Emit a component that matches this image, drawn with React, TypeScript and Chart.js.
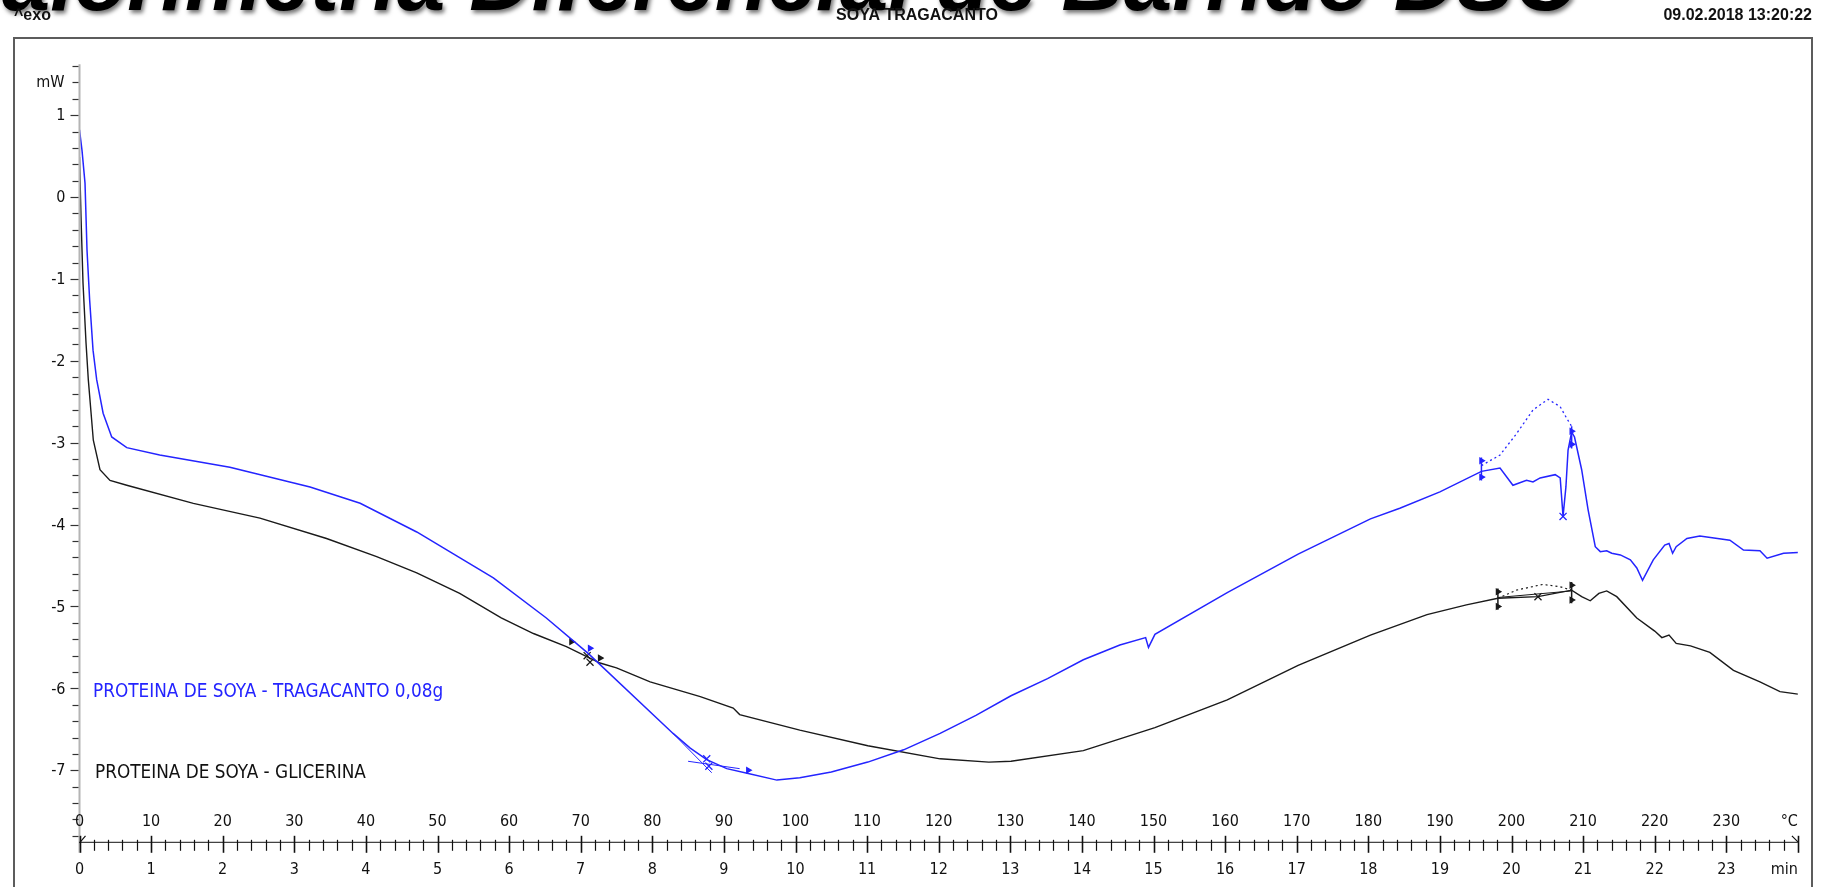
import React, { useEffect, useRef } from "react";
import { Chart, registerables } from "chart.js";

Chart.register(...registerables);

const W = 1828;
const H = 887;

// DSC heat flow (mW) against sample temperature (°C); 10 °C/min, so minutes = °C / 10
const tempTragacanto = [
  0, 0.35, 0.77, 1.05, 1.42, 1.89, 2.4, 3.3, 4.5, 6.6, 11.2, 21.0, 32.2, 39.2, 47.1, 57.8, 65.2,
  71.0, 82.9, 85.3, 87.6, 90.4, 93.4, 97.4, 100.6, 105.0, 110.1, 115.1, 120.2, 125.2, 130.1, 135.2,
  140.2, 145.3, 148.9, 149.3, 150.2, 160.3, 170.2, 180.3, 184.4, 190.0, 195.8, 198.4, 200.2, 202.1,
  203.0, 204.0, 206.1, 206.8, 207.2, 207.6, 207.9, 208.4, 208.8, 209.8, 210.7, 211.7, 212.4, 213.3,
  214.0, 215.2, 216.6, 217.5, 218.3, 219.8, 221.4, 222.0, 222.5, 223.0, 224.5, 226.3, 230.5, 232.4,
  234.7, 235.7, 238.0, 240.0,
];
const mwTragacanto = [
  0.82, 0.57, 0.17, -0.65, -1.26, -1.87, -2.23, -2.64, -2.93, -3.06, -3.15, -3.30, -3.54, -3.74, -4.09,
  -4.65, -5.14, -5.57, -6.55, -6.73, -6.87, -6.98, -7.04, -7.12, -7.09, -7.02, -6.90, -6.75, -6.55,
  -6.33, -6.09, -5.88, -5.65, -5.47, -5.38, -5.50, -5.34, -4.83, -4.36, -3.93, -3.80, -3.60, -3.35,
  -3.31, -3.52, -3.46, -3.48, -3.43, -3.39, -3.43, -3.90, -3.54, -3.09, -2.87, -2.93, -3.33, -3.82,
  -4.27, -4.33, -4.32, -4.35, -4.37, -4.43, -4.53, -4.68, -4.43, -4.25, -4.23, -4.35, -4.27, -4.17,
  -4.14, -4.19, -4.31, -4.32, -4.41, -4.35, -4.34,
];

const tempGlicerina = [
  0, 0.21, 0.49, 0.91, 1.23, 1.93, 2.86, 4.26, 6.6, 15.9, 25.2, 34.5, 41.5, 47.1, 53.1, 58.9, 63.4,
  68.0, 72.7, 75.0, 79.7, 86.7, 91.3, 92.2, 100.6, 110.1, 120.2, 127.0, 130.1, 140.2, 150.2, 160.3,
  170.2, 180.3, 188.2, 193.7, 198.1, 203.7, 208.4, 209.8, 211.0, 212.2, 213.3, 214.7, 217.5, 220.0,
  221.0, 222.0, 223.0, 225.0, 227.7, 231.0, 234.7, 237.5, 240.0,
];
const mwGlicerina = [
  0.49, -0.24, -1.05, -1.78, -2.23, -2.97, -3.33, -3.46, -3.52, -3.74, -3.92, -4.17, -4.39, -4.59,
  -4.84, -5.14, -5.33, -5.49, -5.69, -5.75, -5.92, -6.10, -6.24, -6.32, -6.51, -6.70, -6.86, -6.90,
  -6.89, -6.76, -6.48, -6.14, -5.72, -5.35, -5.10, -4.98, -4.90, -4.88, -4.80, -4.88, -4.93, -4.84,
  -4.81, -4.88, -5.14, -5.30, -5.38, -5.35, -5.45, -5.48, -5.56, -5.78, -5.92, -6.04, -6.07,
];

// interpolated peak baselines (dotted) and evaluation lines
const tempBaseTragacanto = [195.8, 198.4, 200.7, 203.0, 205.1, 206.8, 207.7, 208.4];
const mwBaseTragacanto = [-3.28, -3.15, -2.89, -2.60, -2.47, -2.56, -2.70, -2.80];
const tempBaseGlicerina = [198.1, 200.7, 204.4, 206.8, 208.4];
const mwBaseGlicerina = [-4.90, -4.80, -4.73, -4.76, -4.80];
const tempLineGlicerina = [198.1, 208.4];
const mwLineGlicerina = [-4.89, -4.81];
const tempTangentSteep = [82.9, 88.3];
const mwTangentSteep = [-6.55, -7.03];
const tempTangentFlat = [85.0, 92.2];
const mwTangentFlat = [-6.89, -6.98];

// evaluation limit flags and onset crosses
const tempFlagsTragacanto = [71.3, 93.4, 195.8, 195.8, 208.4, 208.4];
const mwFlagsTragacanto = [-5.51, -7.0, -3.22, -3.42, -2.86, -3.02];
const tempCrossTragacanto = [87.6, 87.9, 207.2];
const mwCrossTragacanto = [-6.86, -6.95, -3.9];
const tempFlagsGlicerina = [68.7, 72.7, 198.1, 198.1, 208.4, 208.4];
const mwFlagsGlicerina = [-5.43, -5.63, -4.82, -5.0, -4.74, -4.92];
const tempCrossGlicerina = [70.9, 71.3, 203.7];
const mwCrossGlicerina = [-5.6, -5.68, -4.88];
const bracketTragacanto = [
  [195.8, -3.18, -3.46],
  [208.4, -2.80, -3.07],
];
const bracketGlicerina = [
  [198.1, -4.78, -5.04],
  [208.4, -4.70, -4.96],
];

// axis labels
const tempTickLabels = ["0", "10", "20", "30", "40", "50", "60", "70", "80", "90", "100", "110", "120", "130", "140", "150", "160", "170", "180", "190", "200", "210", "220", "230"];
const minuteTickLabels = ["0", "1", "2", "3", "4", "5", "6", "7", "8", "9", "10", "11", "12", "13", "14", "15", "16", "17", "18", "19", "20", "21", "22", "23"];
const mwTickValues = [1, 0, -1, -2, -3, -4, -5, -6, -7];

const TITLE = "Calorimetría Diferencial de Barrido DSC";
const SAMPLE = "SOYA TRAGACANTO";
const STAMP = "09.02.2018 13:20:22";
const LABEL_TRAG = "PROTEINA DE SOYA - TRAGACANTO 0,08g";
const LABEL_GLIC = "PROTEINA DE SOYA - GLICERINA";

const BLUE = "#2424ff";
const BLACK = "#1a1a1a";
const TICK_FONT = "16px 'DejaVu Sans Condensed', 'DejaVu Sans', sans-serif";
const NAME_FONT = "18.8px 'DejaVu Sans Condensed', 'DejaVu Sans', sans-serif";

const pts = (xs: number[], ys: number[]) => xs.map((x, i) => ({ x, y: ys[i] }));

const overlay = {
  id: "dscOverlay",
  afterDraw(chart: any) {
    const ctx: CanvasRenderingContext2D = chart.ctx;
    const xs = chart.scales.x;
    const ys = chart.scales.y;
    const area = chart.chartArea;
    const x0 = xs.getPixelForValue(0);
    const x1 = xs.getPixelForValue(240);
    const axisY = area.bottom + 6;

    ctx.save();

    // outer frame
    ctx.strokeStyle = "#5c5c5c";
    ctx.lineWidth = 2;
    ctx.strokeRect(14, 38, 1798, 1000);

    // y axis
    ctx.strokeStyle = "#b4b4b4";
    ctx.lineWidth = 2;
    ctx.beginPath();
    ctx.moveTo(x0, ys.getPixelForValue(1.62));
    ctx.lineTo(x0, axisY + 11);
    ctx.stroke();
    ctx.strokeStyle = "#333";
    ctx.lineWidth = 1.2;
    for (let k = 0; k <= 47; k++) {
      const v = 1.6 - k * 0.2;
      const y = Math.round(ys.getPixelForValue(v)) + 0.5;
      const major = Math.abs(v - Math.round(v)) < 1e-6;
      ctx.beginPath();
      ctx.moveTo(x0 - (major ? 9 : 7), y);
      ctx.lineTo(x0 - 1, y);
      ctx.stroke();
    }
    ctx.fillStyle = "#111";
    ctx.font = TICK_FONT;
    ctx.textAlign = "right";
    ctx.textBaseline = "middle";
    mwTickValues.forEach((v) => ctx.fillText(String(v), x0 - 14, ys.getPixelForValue(v) + 1));
    ctx.fillText("mW", x0 - 15, ys.getPixelForValue(1.4));

    // x axis
    ctx.strokeStyle = "#111";
    ctx.lineWidth = 1;
    ctx.beginPath();
    ctx.moveTo(x0, axisY + 0.5);
    ctx.lineTo(x1, axisY + 0.5);
    ctx.stroke();
    for (let k = 0; k <= 120; k++) {
      const t = k * 2;
      const x = Math.round(xs.getPixelForValue(t)) + 0.5;
      const major = k % 5 === 0;
      ctx.lineWidth = major ? 1.6 : 1.2;
      ctx.beginPath();
      ctx.moveTo(x, axisY - (major ? 6 : 2));
      ctx.lineTo(x, axisY + (major ? 11 : 9));
      ctx.stroke();
    }
    // break marks at both ends of the time axis
    ctx.lineWidth = 1.2;
    ctx.beginPath();
    ctx.moveTo(x0, axisY + 1);
    ctx.lineTo(x0 + 6, axisY - 6);
    ctx.moveTo(x1 - 6, axisY - 6);
    ctx.lineTo(x1, axisY);
    ctx.stroke();

    ctx.font = TICK_FONT;
    ctx.textAlign = "center";
    ctx.textBaseline = "middle";
    tempTickLabels.forEach((s) => ctx.fillText(s, xs.getPixelForValue(Number(s)), axisY - 20));
    minuteTickLabels.forEach((s) => ctx.fillText(s, xs.getPixelForValue(Number(s) * 10), axisY + 28));
    ctx.textAlign = "right";
    ctx.fillText("°C", x1, axisY - 20);
    ctx.fillText("min", x1, axisY + 28);

    // curve names
    ctx.font = NAME_FONT;
    ctx.textAlign = "left";
    ctx.fillStyle = BLUE;
    ctx.fillText(LABEL_TRAG, 93, ys.getPixelForValue(-6.04));
    ctx.fillStyle = "#111";
    ctx.fillText(LABEL_GLIC, 95, ys.getPixelForValue(-7.04));

    // large heading with soft shadow
    ctx.save();
    ctx.font = "italic bold 100px 'Liberation Sans', Arial, sans-serif";
    const wAll = ctx.measureText(TITLE).width;
    const wC = ctx.measureText("C").width;
    const size = (100 * 1575) / (wAll - wC);
    ctx.font = `italic bold ${size}px 'Liberation Sans', Arial, sans-serif`;
    ctx.textAlign = "left";
    ctx.textBaseline = "alphabetic";
    ctx.shadowColor = "rgba(0,0,0,0.55)";
    ctx.shadowBlur = 4;
    ctx.shadowOffsetX = 2;
    ctx.shadowOffsetY = 3;
    ctx.fillStyle = "#000";
    ctx.fillText(TITLE, -(wC * size) / 100 + 2, 10);
    ctx.restore();

    // header line on top of the heading
    ctx.fillStyle = "#111";
    ctx.font = "bold 16px 'Liberation Sans', Arial, sans-serif";
    ctx.textBaseline = "alphabetic";
    ctx.textAlign = "left";
    ctx.fillText("^exo", 14, 20);
    ctx.textAlign = "center";
    ctx.fillText(SAMPLE, 917, 20);
    ctx.textAlign = "right";
    ctx.fillText(STAMP, 1812, 20);

    ctx.restore();
  },
};

const lineDs = (label: string, xs: number[], ys: number[], color: string, width: number, dash: number[] = []) => ({
  label,
  data: pts(xs, ys),
  showLine: true,
  borderColor: color,
  borderWidth: width,
  borderDash: dash,
  pointRadius: 0,
  tension: 0,
  fill: false,
});

const markerDs = (label: string, xs: number[], ys: number[], color: string, style: string, radius: number, rotation = 0) => ({
  label,
  data: pts(xs, ys),
  showLine: false,
  pointStyle: style,
  pointRadius: radius,
  pointRotation: rotation,
  pointBackgroundColor: color,
  pointBorderColor: color,
  pointBorderWidth: 1.3,
});

export default function App() {
  const ref = useRef<HTMLCanvasElement | null>(null);

  useEffect(() => {
    if (!ref.current) return;
    const brackets = [
      ...bracketTragacanto.map((b, i) => lineDs(`bt${i}`, [b[0], b[0]], [b[1], b[2]], BLUE, 1.5)),
      ...bracketGlicerina.map((b, i) => lineDs(`bg${i}`, [b[0], b[0]], [b[1], b[2]], BLACK, 1.5)),
    ];
    const chart = new Chart(ref.current, {
      type: "scatter",
      data: {
        datasets: [
          lineDs("PROTEINA DE SOYA - TRAGACANTO 0,08g", tempTragacanto, mwTragacanto, BLUE, 1.5),
          lineDs("PROTEINA DE SOYA - GLICERINA", tempGlicerina, mwGlicerina, BLACK, 1.4),
          lineDs("base-t", tempBaseTragacanto, mwBaseTragacanto, BLUE, 1.3, [2, 3]),
          lineDs("base-g", tempBaseGlicerina, mwBaseGlicerina, BLACK, 1.2, [2, 3]),
          lineDs("line-g", tempLineGlicerina, mwLineGlicerina, BLACK, 1),
          lineDs("tan-1", tempTangentSteep, mwTangentSteep, BLUE, 1),
          lineDs("tan-2", tempTangentFlat, mwTangentFlat, BLUE, 1),
          ...brackets,
          markerDs("flags-t", tempFlagsTragacanto, mwFlagsTragacanto, BLUE, "triangle", 3, 90),
          markerDs("cross-t", tempCrossTragacanto, mwCrossTragacanto, BLUE, "crossRot", 5),
          markerDs("flags-g", tempFlagsGlicerina, mwFlagsGlicerina, BLACK, "triangle", 3, 90),
          markerDs("cross-g", tempCrossGlicerina, mwCrossGlicerina, BLACK, "crossRot", 5),
        ] as any,
      },
      options: {
        animation: false,
        responsive: false,
        devicePixelRatio: 1,
        layout: { padding: { left: 79.5, right: 30.1, top: 66, bottom: 51.2 } },
        plugins: { legend: { display: false }, tooltip: { enabled: false } },
        events: [],
        scales: {
          x: { type: "linear", min: 0, max: 240, display: false },
          y: { type: "linear", min: -7.8, max: 1.6, display: false },
        },
      },
      plugins: [overlay],
    });
    return () => chart.destroy();
  }, []);

  return (
    <div style={{ position: "fixed", left: 0, top: 0, width: W, height: H, background: "#fff" }}>
      <canvas ref={ref} width={W} height={H} style={{ width: W, height: H, display: "block" }} />
    </div>
  );
}
